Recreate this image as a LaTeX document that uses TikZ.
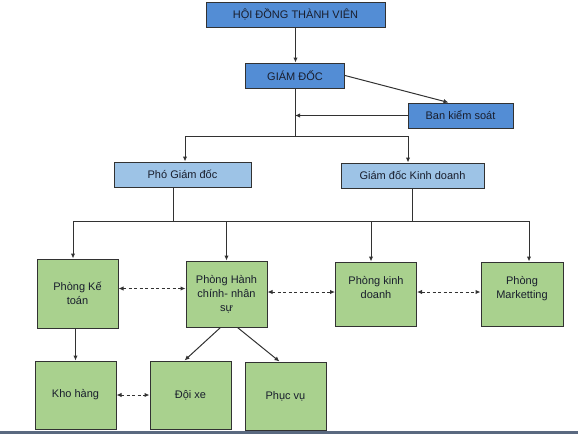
\documentclass[tikz,border=0pt]{standalone}
\usepackage{fontspec}
\setmainfont{Liberation Sans}
\usetikzlibrary{arrows.meta}
\definecolor{darkblue}{RGB}{83,141,213}
\definecolor{lightblue}{RGB}{157,195,230}
\definecolor{boxgreen}{RGB}{169,209,142}
\definecolor{linegray}{RGB}{50,50,50}
\definecolor{textnavy}{RGB}{25,30,45}
\definecolor{stripcol}{RGB}{90,105,128}
\begin{document}
\begin{tikzpicture}[x=1pt,y=-1pt,
    box/.style={draw=linegray, line width=1pt, inner sep=0pt, align=center, text=textnavy, font=\fontsize{11}{14}\selectfont},
    topbox/.style={box, fill=darkblue, minimum height=25pt},
    midbox/.style={box, fill=lightblue, minimum height=25pt},
    dept/.style={box, fill=boxgreen, minimum width=81pt, minimum height=66pt},
    link/.style={draw=linegray, line width=1pt},
    arr/.style={link, -{Latex[length=5pt,width=4.5pt]}},
    darr/.style={link, {Latex[length=5pt,width=4.5pt]}-{Latex[length=5pt,width=4.5pt]}, dash pattern=on 3pt off 2.5pt}]
    \useasboundingbox (0,0) rectangle (578,434);
    \node[topbox, minimum width=179pt] (hdtv) at (295.5,14.5) {HỘI ĐỒNG THÀNH VIÊN};
    \node[topbox, minimum width=99pt] (gd) at (295,75.5) {GIÁM ĐỐC};
    \node[topbox, minimum width=105pt] (bks) at (460.5,115.5) {Ban kiểm soát};
    \node[midbox, minimum width=137pt] (pgd) at (182.5,174.5) {Phó Giám đốc};
    \node[midbox, minimum width=143pt] (gdkd) at (412.5,175.5) {Giám đốc Kinh doanh};
    \node[dept, minimum height=69pt] (ketoan) at (77.5,293.5) {Phòng Kế\\toán};
    \node[dept] (hcns) at (226.5,294) {Phòng Hành\\chính- nhân\\sự};
    \node[dept, minimum height=64pt] (kinhdoanh) at (376,294) {Phòng kinh\\doanh\\\phantom{x}};
    \node[dept, minimum height=64pt, minimum width=82pt] (marketing) at (522,294) {Phòng\\Marketting\\\phantom{x}};
    \node[dept, minimum height=68pt] (khohang) at (75.5,395) {Kho hàng};
    \node[dept, minimum height=68pt] (doixe) at (190.5,395) {Đội xe};
    \node[dept, minimum height=68pt] (phucvu) at (285.5,396) {Phục vụ};
    \draw[arr] (hdtv.south) -- (hdtv.south |- gd.north);
    \draw[arr] (gd.east) -- ([xshift=-12pt]bks.north);
    \coordinate (split) at (295,136);
    \coordinate (leftdrop) at (185,136);
    \coordinate (rightdrop) at (408,136);
    \draw[link] (gd.south) -- (split);
    \draw[arr] (bks.west) -- (bks.west -| split);
    \draw[arr] (split) -- (leftdrop) -- (leftdrop |- pgd.north);
    \draw[arr] (split) -- (rightdrop) -- (rightdrop |- gdkd.north);
    \coordinate (pgdfoot) at (173,221);
    \coordinate (busL) at (73,221);
    \coordinate (busR) at (529,221);
    \coordinate (dropkd) at (371,221);
    \draw[link] (pgdfoot |- pgd.south) -- (pgdfoot);
    \draw[link] (gdkd.south) -- (gdkd.south |- busL);
    \draw[link] (busL) -- (busR);
    \draw[arr] (busL) -- (busL |- ketoan.north);
    \draw[arr] (hcns.north |- busL) -- (hcns.north);
    \draw[arr] (dropkd) -- (dropkd |- kinhdoanh.north);
    \draw[arr] (busR) -- (busR |- marketing.north);
    \draw[arr] (ketoan.south -| khohang.north) -- (khohang.north);
    \draw[arr] ([xshift=-6pt]hcns.south) -- ([xshift=-6pt]doixe.north);
    \draw[arr] ([xshift=11pt]hcns.south) -- ([xshift=-6pt]phucvu.north);
    \draw[darr] ([yshift=5pt]ketoan.east) -- ([yshift=5pt]ketoan.east -| hcns.west);
    \draw[darr] ([yshift=2pt]hcns.east) -- ([yshift=2pt]hcns.east -| kinhdoanh.west);
    \draw[darr] ([yshift=2pt]kinhdoanh.east) -- ([yshift=2pt]kinhdoanh.east -| marketing.west);
    \draw[darr] (khohang.east) -- (doixe.west);
    \fill[stripcol] (0,431) rectangle (578,434);
\end{tikzpicture}
\end{document}
